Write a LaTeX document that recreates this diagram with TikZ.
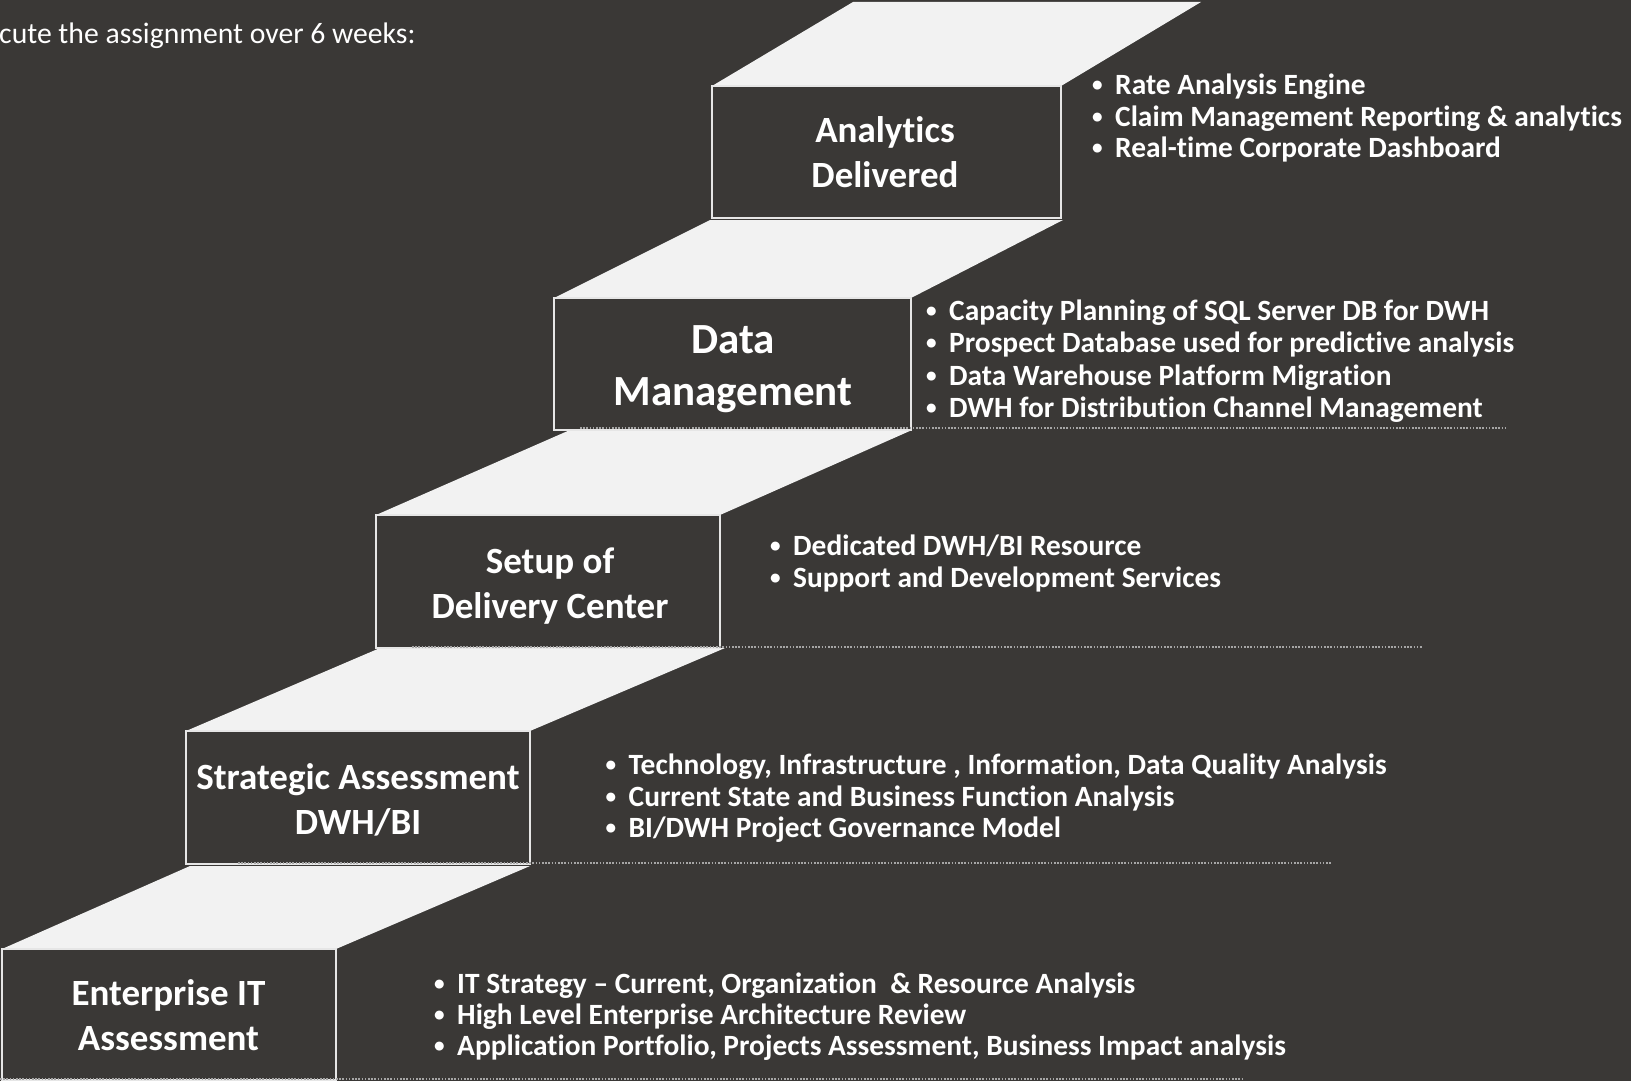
\documentclass[tikz,border=0pt]{standalone}
\usepackage{graphicx}
\usepackage{fontspec}
\setmainfont{Carlito}[Ligatures={NoCommon}]
\definecolor{bgc}{HTML}{3A3836}
\definecolor{facec}{HTML}{F2F2F2}
\definecolor{edgec}{HTML}{E6E6E6}
\definecolor{dotc}{HTML}{A6A6A6}
% one bullet line of a step's description
\newcommand\bitem[4]{\node[item] (#1) at (#2,#3)
  {\makebox[25pt][l]{\hspace{2pt}\raisebox{0.09em}{\scalebox{0.72}{•}}}#4};}
\begin{document}
\begin{tikzpicture}[x=1pt,y=-1pt,
  stepbox/.style={draw=edgec, line width=1.6pt, fill=bgc, outer sep=0pt,
    inner sep=0pt},
  steptext/.style={align=center, text=white, inner sep=0pt,
    font=\bfseries\fontsize{37}{45}\selectfont},
  bigstep/.style={font=\bfseries\fontsize{43}{52}\selectfont},
  face/.style={fill=facec},
  dotline/.style={draw=dotc, line width=1.6pt, dash pattern=on 1.6pt off 1.6pt},
  item/.style={anchor=base west, inner sep=0pt, text=white,
    font=\bfseries\fontsize{29.4}{31.7}\selectfont}]
\useasboundingbox (0,0) rectangle (1631,1081);
\fill[bgc] (0,0) rectangle (1631,1081);
\clip (0,0) rectangle (1631,1081);

% heading
\node[anchor=west, inner sep=0pt, text=white, font=\fontsize{29.7}{34}\selectfont]
  (head) at (-1,36) {cute the assignment over 6 weeks:};

% treads of the staircase
\fill[face] (712,86) -- (1061,86) -- (1201,2) -- (853,2) -- cycle;
\fill[face] (554,298) -- (911,298) -- (1063,220) -- (710,220) -- cycle;
\fill[face] (376,515) -- (720,515) -- (912,430) -- (570,430) -- cycle;
\fill[face] (186,731) -- (530,731) -- (725,648) -- (380,648) -- cycle;
\fill[face] (2,949) -- (336,949) -- (530,866) -- (190,866) -- cycle;

% risers
\node[stepbox, minimum width=349pt, minimum height=132pt] (s5) at (886.5,152) {};
\node[stepbox, minimum width=357pt, minimum height=132pt] (s4) at (732.5,364) {};
\node[stepbox, minimum width=344pt, minimum height=133pt] (s3) at (548,581.5) {};
\node[stepbox, minimum width=344pt, minimum height=133pt] (s2) at (358,797.5) {};
\node[stepbox, minimum width=334pt, minimum height=131pt] (s1) at (169,1014.5) {};

% step names
\node[steptext] (n5) at (885,152) {Analytics\\Delivered};
\node[steptext, bigstep] (n4) at (733,369) {Data\\Management};
\node[steptext] (n3) at (550,586) {Setup of\\Delivery Center};
\node[steptext] (n2) at (358,800) {Strategic Assessment\\DWH/BI};
\node[steptext] (n1) at (168.5,1015.5) {Enterprise IT\\Assessment};

% dotted guide lines
\draw[dotline] (580,428) -- (1505,428);
\draw[dotline] (412,647) -- (1423,647);
\draw[dotline] (238,863) -- (1332,863);
\draw[dotline] (0,1079) -- (1243,1079);

% descriptions
\bitem{a1}{1090}{94.5}{Rate Analysis Engine}
\bitem{a2}{1090}{126}{Claim Management Reporting \& analytics}
\bitem{a3}{1090}{157.5}{Real-time Corporate Dashboard}

\bitem{d1}{924}{320}{Capacity Planning of SQL Server DB for DWH}
\bitem{d2}{924}{352.5}{Prospect Database used for predictive analysis}
\bitem{d3}{924}{385}{Data Warehouse Platform Migration}
\bitem{d4}{924}{417}{DWH for Distribution Channel Management}

\bitem{c1}{768}{555}{Dedicated DWH/BI Resource}
\bitem{c2}{768}{587}{Support and Development Services}

\bitem{b1}{603.5}{774}{Technology, Infrastructure , Information, Data Quality Analysis}
\bitem{b2}{603.5}{806}{Current State and Business Function Analysis}
\bitem{b3}{603.5}{837}{BI/DWH Project Governance Model}

\bitem{e1}{432}{993}{IT Strategy – Current, Organization \ \& Resource Analysis}
\bitem{e2}{432}{1024}{High Level Enterprise Architecture Review}
\bitem{e3}{432}{1055}{Application Portfolio, Projects Assessment, Business Impact analysis}
\end{tikzpicture}
\end{document}
